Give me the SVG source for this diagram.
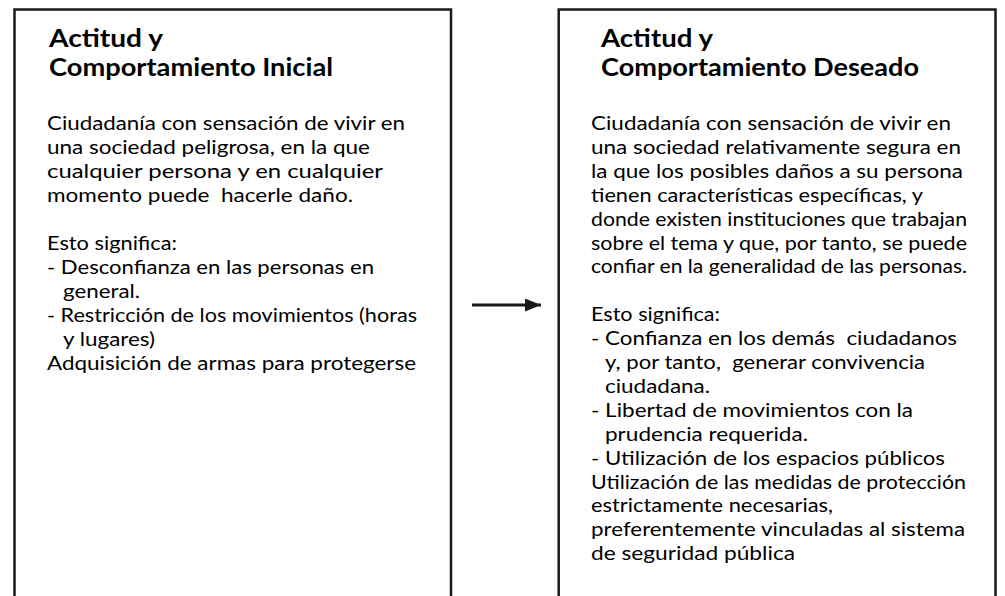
<svg xmlns="http://www.w3.org/2000/svg" width="1005" height="596" viewBox="0 0 1005 596">
<style>
.box{fill:#fff;stroke:#1a1a1a;stroke-width:2.5}
.t{font-family:Lato,"Open Sans","Liberation Sans",sans-serif;font-weight:bold;font-size:24px;fill:#000}
.b{font-family:Lato,"Open Sans","Liberation Sans",sans-serif;font-size:19.5px;fill:#000;white-space:pre}
</style>
<defs>
<marker id="ah" markerWidth="16" markerHeight="13" refX="16" refY="6.5" orient="auto" markerUnits="userSpaceOnUse">
<polygon points="0,0 16,6.5 0,13" fill="#1a1a1a"/>
</marker>
</defs>
<rect width="1005" height="596" fill="#fff"/>
<g id="node-inicial">
<rect class="box" x="14.5" y="9.5" width="436.5" height="600"/>
<text class="t" x="49" y="47" textLength="114" lengthAdjust="spacingAndGlyphs">Actitud y</text>
<text class="t" x="49" y="76" textLength="284" lengthAdjust="spacingAndGlyphs">Comportamiento Inicial</text>
<text class="b" xml:space="preserve" x="47" y="130" textLength="358" lengthAdjust="spacingAndGlyphs">Ciudadanía con sensación de vivir en</text>
<text class="b" xml:space="preserve" x="47" y="154" textLength="323" lengthAdjust="spacingAndGlyphs">una sociedad peligrosa, en la que</text>
<text class="b" xml:space="preserve" x="47" y="178" textLength="336" lengthAdjust="spacingAndGlyphs">cualquier persona y en cualquier</text>
<text class="b" xml:space="preserve" x="47" y="202" textLength="306" lengthAdjust="spacingAndGlyphs">momento puede  hacerle daño.</text>
<text class="b" xml:space="preserve" x="47" y="250" textLength="130" lengthAdjust="spacingAndGlyphs">Esto significa:</text>
<text class="b" xml:space="preserve" x="47" y="274" textLength="327" lengthAdjust="spacingAndGlyphs">- Desconfianza en las personas en</text>
<text class="b" xml:space="preserve" x="63" y="298" textLength="77" lengthAdjust="spacingAndGlyphs">general.</text>
<text class="b" xml:space="preserve" x="47" y="322" textLength="370" lengthAdjust="spacingAndGlyphs">- Restricción de los movimientos (horas</text>
<text class="b" xml:space="preserve" x="63" y="346" textLength="92" lengthAdjust="spacingAndGlyphs">y lugares)</text>
<text class="b" xml:space="preserve" x="47" y="370" textLength="369" lengthAdjust="spacingAndGlyphs">Adquisición de armas para protegerse</text>
</g>
<g id="node-deseado">
<rect class="box" x="558.7" y="9.5" width="436.8" height="600"/>
<text class="t" x="601" y="47" textLength="112" lengthAdjust="spacingAndGlyphs">Actitud y</text>
<text class="t" x="601" y="76" textLength="318" lengthAdjust="spacingAndGlyphs">Comportamiento Deseado</text>
<text class="b" xml:space="preserve" x="591" y="130" textLength="360" lengthAdjust="spacingAndGlyphs">Ciudadanía con sensación de vivir en</text>
<text class="b" xml:space="preserve" x="591" y="153.9" textLength="370" lengthAdjust="spacingAndGlyphs">una sociedad relativamente segura en</text>
<text class="b" xml:space="preserve" x="591" y="177.8" textLength="372" lengthAdjust="spacingAndGlyphs">la que los posibles daños a su persona</text>
<text class="b" xml:space="preserve" x="591" y="201.7" textLength="332" lengthAdjust="spacingAndGlyphs">tienen características específicas, y</text>
<text class="b" xml:space="preserve" x="591" y="225.6" textLength="376" lengthAdjust="spacingAndGlyphs">donde existen instituciones que trabajan</text>
<text class="b" xml:space="preserve" x="591" y="249.5" textLength="376" lengthAdjust="spacingAndGlyphs">sobre el tema y que, por tanto, se puede</text>
<text class="b" xml:space="preserve" x="591" y="273.4" textLength="376" lengthAdjust="spacingAndGlyphs">confiar en la generalidad de las personas.</text>
<text class="b" xml:space="preserve" x="591" y="321.2" textLength="129" lengthAdjust="spacingAndGlyphs">Esto significa:</text>
<text class="b" xml:space="preserve" x="591" y="345.1" textLength="366" lengthAdjust="spacingAndGlyphs">- Confianza en los demás  ciudadanos</text>
<text class="b" xml:space="preserve" x="605" y="369" textLength="320" lengthAdjust="spacingAndGlyphs">y, por tanto,  generar convivencia</text>
<text class="b" xml:space="preserve" x="605" y="392.9" textLength="105" lengthAdjust="spacingAndGlyphs">ciudadana.</text>
<text class="b" xml:space="preserve" x="591" y="416.8" textLength="322" lengthAdjust="spacingAndGlyphs">- Libertad de movimientos con la</text>
<text class="b" xml:space="preserve" x="605" y="440.7" textLength="203" lengthAdjust="spacingAndGlyphs">prudencia requerida.</text>
<text class="b" xml:space="preserve" x="591" y="464.6" textLength="354" lengthAdjust="spacingAndGlyphs">- Utilización de los espacios públicos</text>
<text class="b" xml:space="preserve" x="591" y="488.5" textLength="375" lengthAdjust="spacingAndGlyphs">Utilización de las medidas de protección</text>
<text class="b" xml:space="preserve" x="591" y="512.4" textLength="242" lengthAdjust="spacingAndGlyphs">estrictamente necesarias,</text>
<text class="b" xml:space="preserve" x="591" y="536.3" textLength="374" lengthAdjust="spacingAndGlyphs">preferentemente vinculadas al sistema</text>
<text class="b" xml:space="preserve" x="591" y="560.2" textLength="204" lengthAdjust="spacingAndGlyphs">de seguridad pública</text>
</g>
<g id="connectors">
<line x1="472" y1="305" x2="541" y2="305" stroke="#1a1a1a" stroke-width="3" marker-end="url(#ah)"/>
</g>
</svg>
